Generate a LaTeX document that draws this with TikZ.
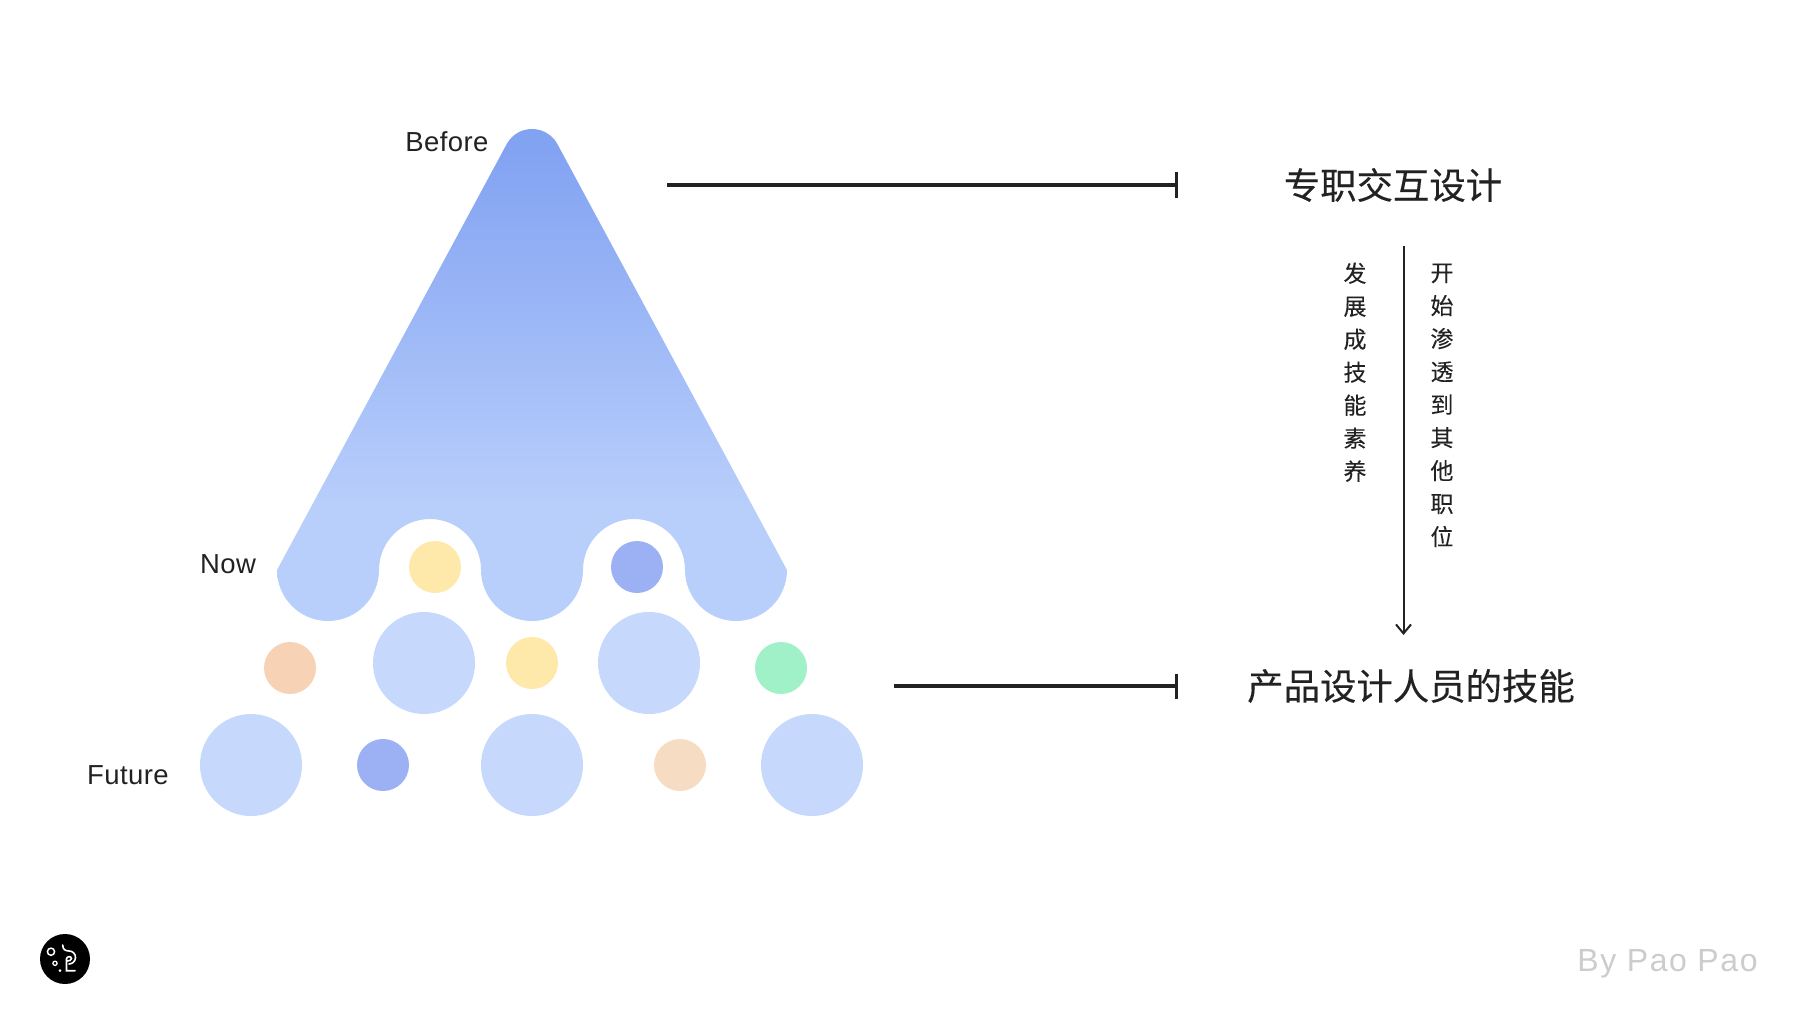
\documentclass[tikz,border=0pt]{standalone}
\usepackage{fontspec}
\usepackage{tikz}
\usetikzlibrary{arrows.meta}
\setmainfont[LetterSpace=1.5]{Liberation Sans}
\newfontfamily\cjk[FakeBold=0.25]{Noto Sans CJK SC}
\newfontfamily\cjkthin[FakeBold=0.1]{Noto Sans CJK SC}
\newfontfamily\credfont[LetterSpace=5]{Liberation Sans}
\definecolor{inkdark}{HTML}{222222}
\definecolor{conetop}{HTML}{82A2F2}
\definecolor{conebottom}{HTML}{B9CFFB}
\definecolor{bubble}{HTML}{C6D8FB}
\definecolor{sunny}{HTML}{FEE9AA}
\definecolor{indigo}{HTML}{9CB1F3}
\definecolor{peach}{HTML}{F7D2B5}
\definecolor{sand}{HTML}{F7DCC4}
\definecolor{mint}{HTML}{A0F0C8}
\pgfdeclareverticalshading{conefade}{100bp}{color(0bp)=(conebottom); color(36bp)=(conebottom); color(73bp)=(conetop); color(100bp)=(conetop)}
\tikzset{
	bigdot/.style={circle, inner sep=0pt, minimum size=102pt, fill=bubble},
	smalldot/.style={circle, inner sep=0pt, minimum size=52pt},
	stage/.style={inkdark, font=\fontsize{27.5}{30}\selectfont},
	skill/.style={inkdark, font=\cjk\fontsize{36.4}{44}\selectfont},
	steps/.style={inkdark, align=center, font=\cjkthin\fontsize{23}{33}\selectfont},
	bar/.style={inkdark, line width=3.5pt, -{Bar[width=25pt,line width=3.5pt]}}
}
\begin{document}
\begin{tikzpicture}[x=1pt, y=-1pt]
	\useasboundingbox (0,0) rectangle (1800,1014);
	\path[shading=conefade] (277,570)
	arc[start angle=180, end angle=360, radius=51pt]
	arc[start angle=180, end angle=0, radius=51pt]
	arc[start angle=180, end angle=360, radius=51pt]
	arc[start angle=180, end angle=0, radius=51pt]
	arc[start angle=180, end angle=360, radius=51pt]
	-- (557.4,144.1)
	arc[start angle=28.3, end angle=151.7, radius=28.8pt]
	-- cycle;
	\node[smalldot, fill=sunny] (y1) at (435,567) {};
	\node[smalldot, fill=indigo] (b1) at (637,567) {};
	\node[bigdot] (m1) at (424,663) {};
	\node[bigdot] (m2) at (649,663) {};
	\node[smalldot, fill=peach] (p1) at (290,668) {};
	\node[smalldot, fill=sunny] (y2) at (532,663) {};
	\node[smalldot, fill=mint] (g1) at (781,668) {};
	\node[bigdot] (f1) at (251,765) {};
	\node[bigdot] (f2) at (532,765) {};
	\node[bigdot] (f3) at (812,765) {};
	\node[smalldot, fill=indigo] (b2) at (383,765) {};
	\node[smalldot, fill=sand] (p2) at (680,765) {};
	\node[stage] (before) at (447,142) {Before};
	\node[stage] (now) at (228,564) {Now};
	\node[stage] (future) at (128,775) {Future};
	\coordinate (A1) at (667,185);
	\coordinate (A2) at (1178,185);
	\coordinate (B1) at (894,686);
	\coordinate (B2) at (1178,686);
	\draw[bar] (A1) -- (A2);
	\draw[bar] (B1) -- (B2);
	\node[skill] (dedicated) at (1393,185) {专职交互设计};
	\node[skill] (skills) at (1411,686) {产品设计人员的技能};
	\coordinate (C1) at (1403.5,246);
	\coordinate (C2) at (1403.5,635);
	\draw[inkdark, line width=2pt, -{Straight Barb[length=9pt,width=15pt]}] (C1) -- (C2);
	\node[steps, anchor=north] (grow) at (1355,259) {发\\展\\成\\技\\能\\素\\养};
	\node[steps, anchor=north] (spread) at (1442,260) {开\\始\\渗\\透\\到\\其\\他\\职\\位};
	\node[circle, fill=black, inner sep=0pt, minimum size=50pt] (logo) at (65,959) {};
	\draw[white, line width=1.5pt] (51,951.7) circle (3.6);
	\draw[white, line width=1.3pt] (55,963.3) circle (2.1);
	\fill[white] (60,970.7) circle (1.5);
	\draw[white, line width=1.6pt, line cap=round] (62.7,945) .. controls (62.7,949) and (65,951) .. (69,951) .. controls (73,951) and (75.5,954) .. (75.5,957.5) .. controls (75.5,961) and (72.5,964) .. (69,964);
	\draw[white, line width=1.6pt, line cap=round] (75,970.7) -- (66.5,970.7) -- (66.5,959) .. controls (66.5,956) and (71.5,956) .. (71.5,958.5) .. controls (71.5,960.5) and (69,961) .. (67,961);
	\node[font=\credfont\fontsize{32}{36}\selectfont, text=black!20] (credit) at (1667.5,964) {By Pao Pao};
\end{tikzpicture}
\end{document}
